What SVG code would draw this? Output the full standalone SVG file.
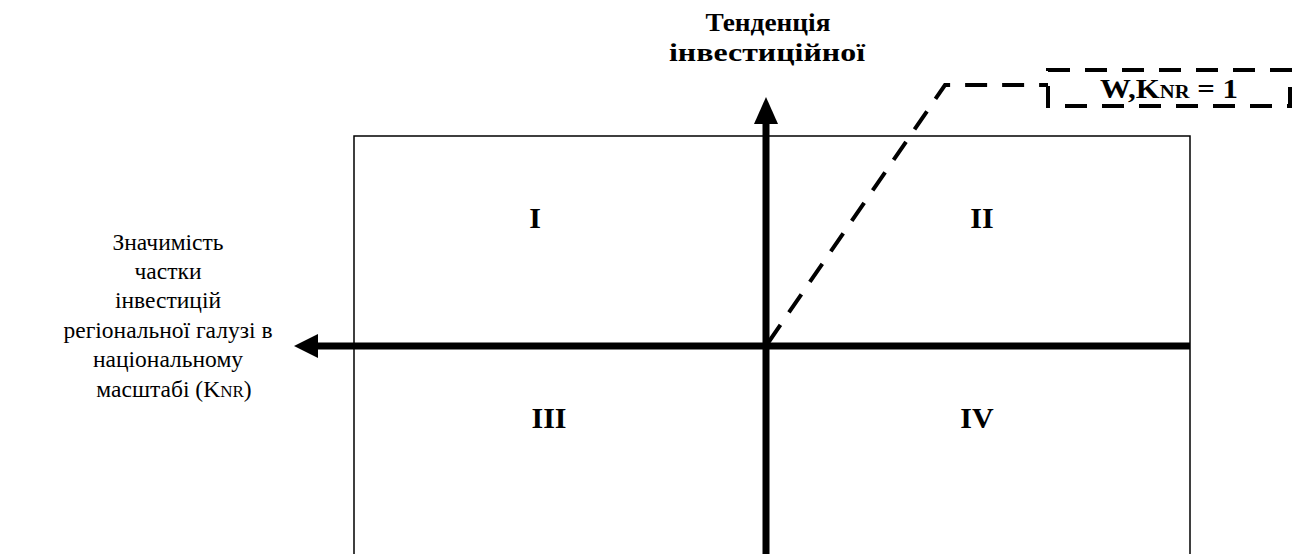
<svg xmlns="http://www.w3.org/2000/svg" width="1305" height="554" viewBox="0 0 1305 554">
<style>
.t{font-family:"Liberation Serif","Times New Roman",serif;fill:#000}
.b{font-weight:bold}
.lbl{font-size:23.5px;text-anchor:middle}
.q{font-size:30px;font-weight:bold;text-anchor:middle}
.dash{fill:none;stroke:#000;stroke-width:4;stroke-dasharray:22 15}
</style>
<rect width="1305" height="554" fill="#fff"/>
<g id="frame"><rect x="354" y="136" width="836" height="430" fill="none" stroke="#000" stroke-width="1.5"/></g>
<g id="quadrants">
<text class="t q" x="535" y="228">I</text>
<text class="t q" x="982" y="228">II</text>
<text class="t q" x="549" y="428">III</text>
<text class="t q" x="977" y="428">IV</text>
</g>
<g id="connectors">
<line x1="766" y1="554" x2="766" y2="120" stroke="#000" stroke-width="7"/>
<polygon points="766,97 754,124 778,124" fill="#000"/>
<line x1="1190" y1="346" x2="315" y2="346" stroke="#000" stroke-width="7"/>
<polygon points="294,346 318,334 318,358" fill="#000"/>
<polyline class="dash" points="768,343 945,85 1048,85"/>
</g>
<g id="wk-box">
<rect class="dash" x="1048" y="70" width="242" height="36"/>
<text class="t b" x="1169" y="98" font-size="27" text-anchor="middle" textLength="138" lengthAdjust="spacingAndGlyphs">W,K<tspan font-size="18">NR</tspan> = 1</text>
</g>
<g id="y-label">
<text class="t b" x="768" y="31" font-size="25" text-anchor="middle" textLength="125" lengthAdjust="spacingAndGlyphs">Тенденція</text>
<text class="t b" x="767" y="61" font-size="25" text-anchor="middle" textLength="196" lengthAdjust="spacingAndGlyphs">інвестиційної</text>
</g>
<g id="x-label">
<text class="t lbl" x="168" y="250">Значимість</text>
<text class="t lbl" x="168" y="279">частки</text>
<text class="t lbl" x="168" y="308">інвестицій</text>
<text class="t lbl" x="168" y="338">регіональної галузі в</text>
<text class="t lbl" x="168" y="367">національному</text>
<text class="t lbl" x="174" y="397">масштабі (K<tspan font-size="17">NR</tspan>)</text>
</g>
</svg>
